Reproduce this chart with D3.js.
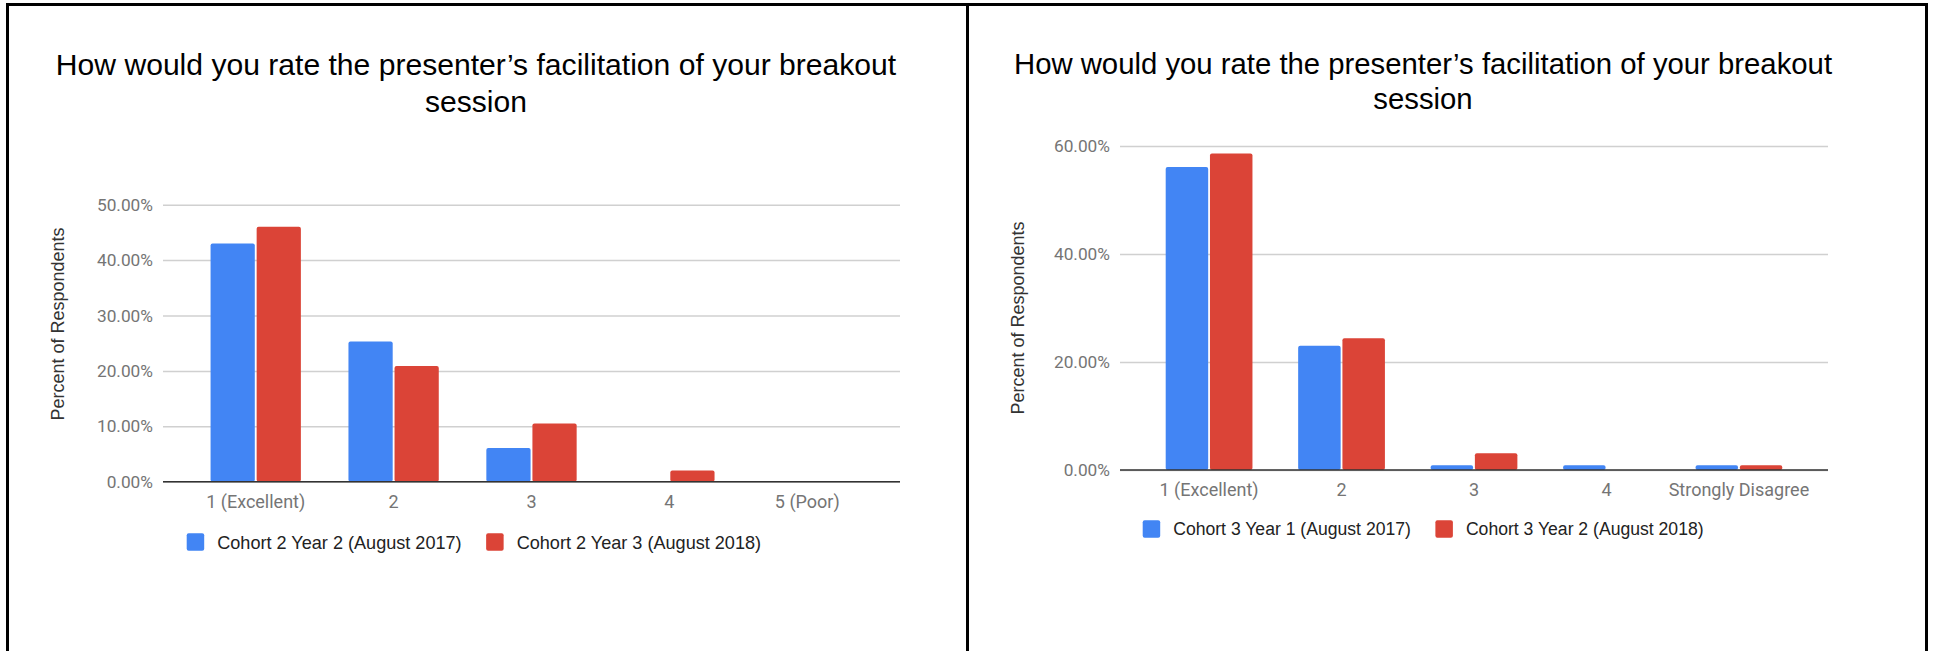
<!DOCTYPE html>
<html>
<head>
<meta charset="utf-8">
<script src="https://cdnjs.cloudflare.com/ajax/libs/d3/7.8.5/d3.min.js"></script>
<style>
  body { margin: 0; background: #fff; }
  svg { display: block; }
</style>
</head>
<body>
<svg id="chart"></svg>
<script>
const titleLines = ['How would you rate the presenter\u2019s facilitation of your breakout', 'session'];
const yTitle = 'Percent of Respondents';
const colors = ['#4285f4', '#db4437'];

const leftCategories = ['1 (Excellent)', '2', '3', '4', '5 (Poor)'];
const leftSeries = ['Cohort 2 Year 2 (August 2017)', 'Cohort 2 Year 3 (August 2018)'];
const leftFirst = [43.0, 25.3, 6.1, 0, 0];
const leftSecond = [46.0, 20.9, 10.5, 2.0, 0];
const leftTicks = [0, 10, 20, 30, 40, 50];

const rightCategories = ['1 (Excellent)', '2', '3', '4', 'Strongly Disagree'];
const rightSeries = ['Cohort 3 Year 1 (August 2017)', 'Cohort 3 Year 2 (August 2018)'];
const rightFirst = [56.1, 23.0, 0.9, 0.9, 0.9];
const rightSecond = [58.6, 24.4, 3.1, 0, 0.9];
const rightTicks = [0, 20, 40, 60];

const width = 1935,
      height = 651,
      $svg = d3.select('#chart')
               .attr('width', width)
               .attr('height', height);

// frame round the two panels
const frame = [
  [6, 4.5, 1928, 4.5],
  [7.5, 3, 7.5, height],
  [967.5, 3, 967.5, height],
  [1926.5, 3, 1926.5, height]
];
$svg.selectAll('.frame')
  .data(frame)
  .enter()
  .append('line')
    .attr('x1', (d) => d[0])
    .attr('y1', (d) => d[1])
    .attr('x2', (d) => d[2])
    .attr('y2', (d) => d[3])
    .attr('stroke', '#000')
    .attr('stroke-width', 3);

function drawChart(opts) {
  const g = $svg.append('g');
  const fmt = (v) => v.toFixed(2) + '%';

  const x = d3.scaleBand()
    .domain(opts.categories)
    .range([opts.left, opts.right])
    .paddingInner(0.345)
    .paddingOuter(0.345);

  const x1 = d3.scaleBand()
    .domain(d3.range(opts.series.length))
    .range([0, x.bandwidth()])
    .paddingInner(0.04);

  const y = d3.scaleLinear()
    .domain([0, d3.max(opts.ticks)])
    .range([opts.bottom, opts.top]);

  // title
  g.append('text')
    .attr('x', opts.titleX)
    .attr('y', opts.titleY)
    .attr('text-anchor', 'middle')
    .style('font-family', 'Liberation Sans, Arial, sans-serif')
    .style('font-size', opts.titleSize + 'px')
    .attr('fill', '#000')
    .selectAll('tspan')
    .data(titleLines)
    .enter()
    .append('tspan')
      .attr('x', opts.titleX)
      .attr('dy', (d, i) => i === 0 ? 0 : opts.lineGap)
      .text((d) => d);

  // gridlines + tick labels
  const yAxis = d3.axisLeft(y)
    .tickValues(opts.ticks)
    .tickSize(-(opts.right - opts.left))
    .tickPadding(10)
    .tickFormat(fmt);

  g.append('g')
      .attr('transform', `translate(${opts.left},0)`)
      .call(yAxis)
      .call((a) => a.select('.domain').remove())
      .call((a) => a.selectAll('.tick line')
        .attr('stroke', '#d0d0d0')
        .attr('stroke-width', 1.5))
      .call((a) => a.selectAll('.tick text')
        .attr('fill', '#757575')
        .style('font-family', 'Roboto, sans-serif')
        .style('font-size', '17.3px'));

  // y title
  g.append('text')
    .attr('transform', `translate(${opts.yTitleX},${opts.yTitleY}) rotate(-90)`)
    .attr('text-anchor', 'middle')
    .attr('dy', '0.35em')
    .style('font-family', 'Liberation Sans, Arial, sans-serif')
    .style('font-size', '18px')
    .attr('fill', '#333')
    .text(yTitle);

  // bars
  const rows = opts.categories.map((c, i) => ({
    category: c,
    values: [opts.first[i], opts.second[i]]
  }));

  const groups = g.selectAll('.cat')
    .data(rows)
    .enter()
    .append('g')
      .classed('cat', true)
      .attr('transform', (d) => `translate(${x(d.category)},0)`);

  groups.selectAll('rect')
    .data((d) => d.values.map((v, i) => ({ v: v, i: i })).filter((d) => d.v > 0))
    .enter()
    .append('rect')
      .attr('x', (d) => x1(d.i))
      .attr('y', (d) => y(d.v))
      .attr('width', x1.bandwidth())
      .attr('height', (d) => y(0) - y(d.v))
      .attr('rx', 2)
      .attr('fill', (d) => colors[d.i]);

  // baseline
  g.append('line')
    .attr('x1', opts.left)
    .attr('x2', opts.right)
    .attr('y1', y(0))
    .attr('y2', y(0))
    .attr('stroke', '#333')
    .attr('stroke-width', 1.5);

  // category labels
  g.selectAll('.xlabel')
    .data(opts.categories)
    .enter()
    .append('text')
      .attr('x', (d) => x(d) + x.bandwidth() / 2)
      .attr('y', opts.xLabelY)
      .attr('text-anchor', 'middle')
      .attr('fill', '#757575')
      .style('font-family', 'Roboto, sans-serif')
      .style('font-size', '18px')
      .text((d) => d);

  // legend
  const legend = g.append('g')
    .attr('transform', `translate(${opts.legendX},${opts.legendY})`);
  let lx = 0;
  opts.series.forEach((name, i) => {
    legend.append('rect')
      .attr('x', lx)
      .attr('y', -8.75)
      .attr('width', 17.5)
      .attr('height', 17.5)
      .attr('rx', 2)
      .attr('fill', colors[i]);
    const t = legend.append('text')
      .attr('x', lx + 30.5)
      .attr('dy', '0.36em')
      .style('font-family', 'Liberation Sans, Arial, sans-serif')
      .style('font-size', opts.legendSize + 'px')
      .attr('fill', '#222')
      .text(name);
    lx += 30.5 + t.node().getComputedTextLength() + 24.5;
  });
}

drawChart({
  categories: leftCategories,
  series: leftSeries,
  first: leftFirst,
  second: leftSecond,
  ticks: leftTicks,
  left: 163, right: 900, top: 204.7, bottom: 481.7,
  titleX: 476, titleY: 75, lineGap: 37, titleSize: 30.1,
  yTitleX: 58, yTitleY: 324,
  xLabelY: 507.5,
  legendX: 186.7, legendY: 542, legendSize: 18.1
});

drawChart({
  categories: rightCategories,
  series: rightSeries,
  first: rightFirst,
  second: rightSecond,
  ticks: rightTicks,
  left: 1120, right: 1828, top: 146, bottom: 470,
  titleX: 1423, titleY: 74.3, lineGap: 35, titleSize: 29.3,
  yTitleX: 1018, yTitleY: 318,
  xLabelY: 496,
  legendX: 1142.7, legendY: 529, legendSize: 17.6
});
</script>
</body>
</html>
